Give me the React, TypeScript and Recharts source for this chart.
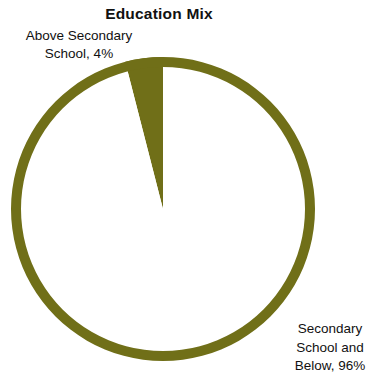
import { Cell, Pie, PieChart } from "recharts";

const categories = ["Above Secondary School", "Secondary School and Below"];
const shares = [4, 96];
const labelLines = [
  ["Above Secondary", "School, 4%"],
  ["Secondary", "School and", "Below, 96%"],
];
const title = "Education Mix";

const OLIVE = "#706f18";
const FILLS = [OLIVE, "#ffffff"];
// where each label's first baseline sits (Excel put them outside the pie)
const LABEL_POS = [
  { x: 79, y: 40, step: 17.5 },
  { x: 330, y: 333, step: 18.5 },
];

const data = categories.map((name, i) => ({ name, value: shares[i] }));

function renderLabel({ index }: { index: number }) {
  const pos = LABEL_POS[index];
  return (
    <text
      key={index}
      x={pos.x}
      y={pos.y}
      textAnchor="middle"
      fill="#111"
      fontSize={13.5}
      fontFamily="'Liberation Sans', Arial, sans-serif"
    >
      {labelLines[index].map((line, j) => (
        <tspan key={j} x={pos.x} y={pos.y + j * pos.step}>
          {line}
        </tspan>
      ))}
    </text>
  );
}

export default function App() {
  return (
    <div style={{ position: "relative", width: 368, height: 373, background: "#fff" }}>
      <style>{`body{margin:0}`}</style>
      <div
        style={{
          position: "absolute",
          left: 0,
          top: 5,
          width: 318,
          textAlign: "center",
          fontFamily: "'Liberation Sans', Arial, sans-serif",
          fontWeight: "bold",
          fontSize: 15.5,
          letterSpacing: 0.2,
          color: "#111",
          zIndex: 1,
        }}
      >
        {title}
      </div>
      <PieChart width={368} height={373} margin={{ top: 0, right: 0, bottom: 0, left: 0 }}>
        <Pie
          data={data}
          dataKey="value"
          nameKey="name"
          cx={163}
          cy={209}
          outerRadius={152}
          startAngle={90}
          endAngle={450}
          stroke="none"
          label={renderLabel}
          labelLine={false}
          isAnimationActive={false}
        >
          {data.map((d, i) => (
            <Cell key={d.name} fill={FILLS[i]} />
          ))}
        </Pie>
        <Pie
          data={[{ name: "ring", value: 1 }]}
          dataKey="value"
          cx={163}
          cy={209}
          innerRadius={142}
          outerRadius={152}
          startAngle={90}
          endAngle={450}
          stroke="none"
          fill={OLIVE}
          isAnimationActive={false}
        />
      </PieChart>
    </div>
  );
}
